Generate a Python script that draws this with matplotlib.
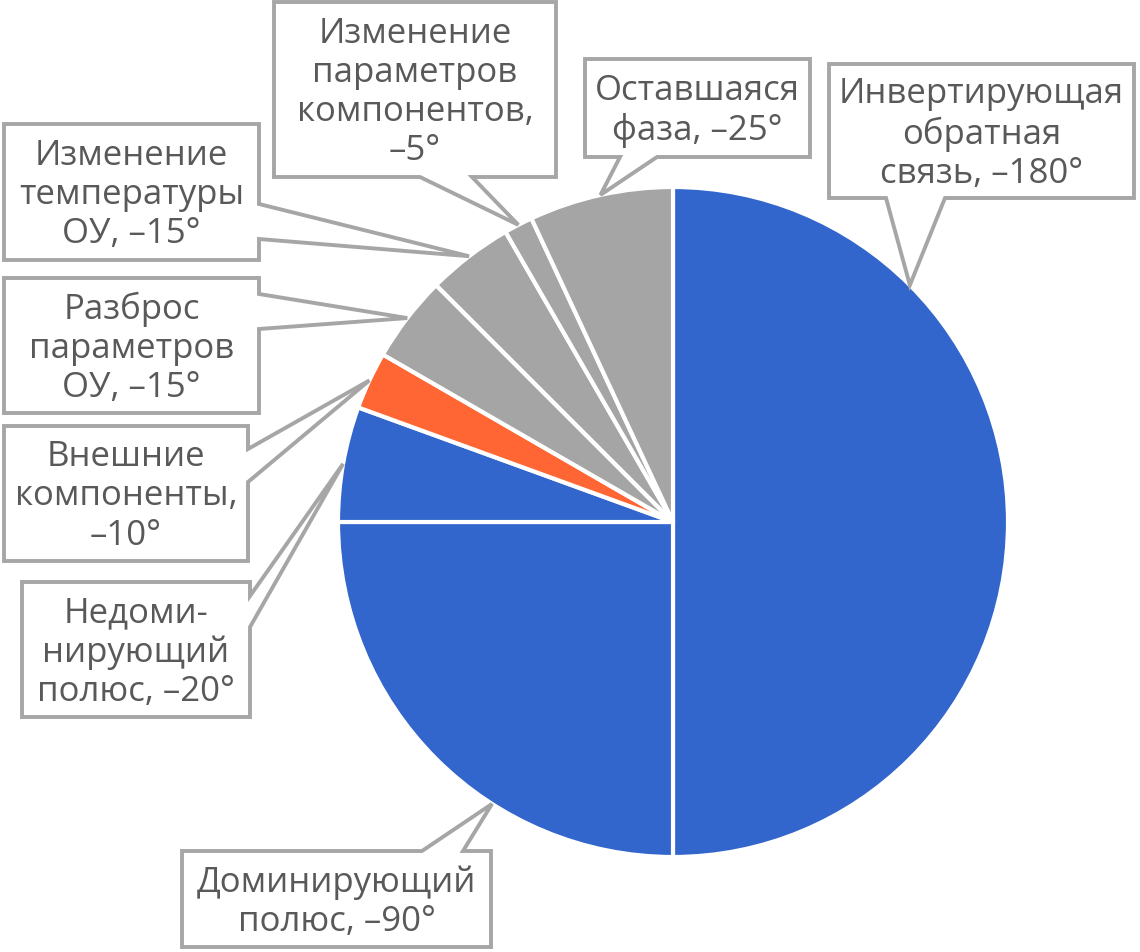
import numpy as np
import matplotlib.pyplot as plt
from matplotlib.patches import Polygon

# Фазовый бюджет (градусы), по часовой стрелке от 12 часов
names = ["Инвертирующая\nобратная\nсвязь",
         "Доминирующий\nполюс",
         "Недоми-\nнирующий\nполюс",
         "Внешние\nкомпоненты",
         "Разброс\nпараметров\nОУ",
         "Изменение\nтемпературы\nОУ",
         "Изменение\nпараметров\nкомпонентов",
         "Оставшаяся\nфаза"]
degrees = [180, 90, 20, 10, 15, 15, 5, 25]
colors = ["#3366CC", "#3366CC", "#3366CC", "#FF6633",
          "#A5A5A5", "#A5A5A5", "#A5A5A5", "#A5A5A5"]
# значение на новой строке или через пробел
value_sep = [" ", " ", " ", "\n", " ", " ", "\n", " "]

W, H = 1140, 953
cx, cy, R = 673, 523, 335   # центр и радиус круга (пиксели, y сверху вниз)

# рамки подписей: x0, y0, x1, y1 (пиксели сверху), сторона выноски, основание выноски
boxes = [
    (829, 65, 1134, 199, "bottom", (886, 945)),
    (182, 852, 491, 948, "top", (422, 463)),
    (22, 583, 250, 718, "right", (597, 628)),
    (4, 427, 248, 562, "right", (450, 483)),
    (4, 279, 259, 414, "right", (295, 330)),
    (4, 125, 259, 261, "right", (205, 240)),
    (274, 3, 556, 178, "bottom", (420, 472)),
    (585, 60, 810, 158, "bottom", (620, 657)),
]
# угол острия выноски (по часовой от 12 часов)
tip_angles = [45, 212.7, 280, 295, 307.5, 322.5, 332.5, 347.5]

text_color = "#595959"
edge_color = "#A6A6A6"


def fy(y):
    # перевод y из пикселей (сверху) в координаты осей
    return H - y


fig = plt.figure(figsize=(W / 100, H / 100), dpi=100)
ax = fig.add_axes([0, 0, 1, 1])

ax.pie(degrees, colors=colors, startangle=90, counterclock=False,
       center=(cx, fy(cy)), radius=R,
       wedgeprops=dict(edgecolor="white", linewidth=3))

for i in range(len(names)):
    x0, y0, x1, y1, side, (a, b) = boxes[i]
    th = np.radians(tip_angles[i])
    tx = cx + R * np.sin(th)
    ty = cy - R * np.cos(th)

    if side == "bottom":
        pts = [(x0, y0), (x1, y0), (x1, y1), (b, y1), (tx, ty), (a, y1), (x0, y1)]
    elif side == "top":
        pts = [(x0, y0), (a, y0), (tx, ty), (b, y0), (x1, y0), (x1, y1), (x0, y1)]
    else:  # right
        pts = [(x0, y0), (x1, y0), (x1, a), (tx, ty), (x1, b), (x1, y1), (x0, y1)]
    pts = [(p[0], fy(p[1])) for p in pts]
    ax.add_patch(Polygon(pts, closed=True, facecolor="white", edgecolor=edge_color,
                         linewidth=2.8, joinstyle="miter", zorder=5))

    label = f"{names[i]},{value_sep[i]}–{degrees[i]}°"
    ax.text((x0 + x1) / 2, fy((y0 + y1) / 2 + 2), label, ha="center", va="center",
            fontsize=25, color=text_color, linespacing=1.2,
            family=["Open Sans", "DejaVu Sans"], zorder=6)

ax.set_xlim(0, W)
ax.set_ylim(0, H)
ax.set_aspect("equal")
ax.axis("off")

fig.savefig("out.png", dpi=100)
